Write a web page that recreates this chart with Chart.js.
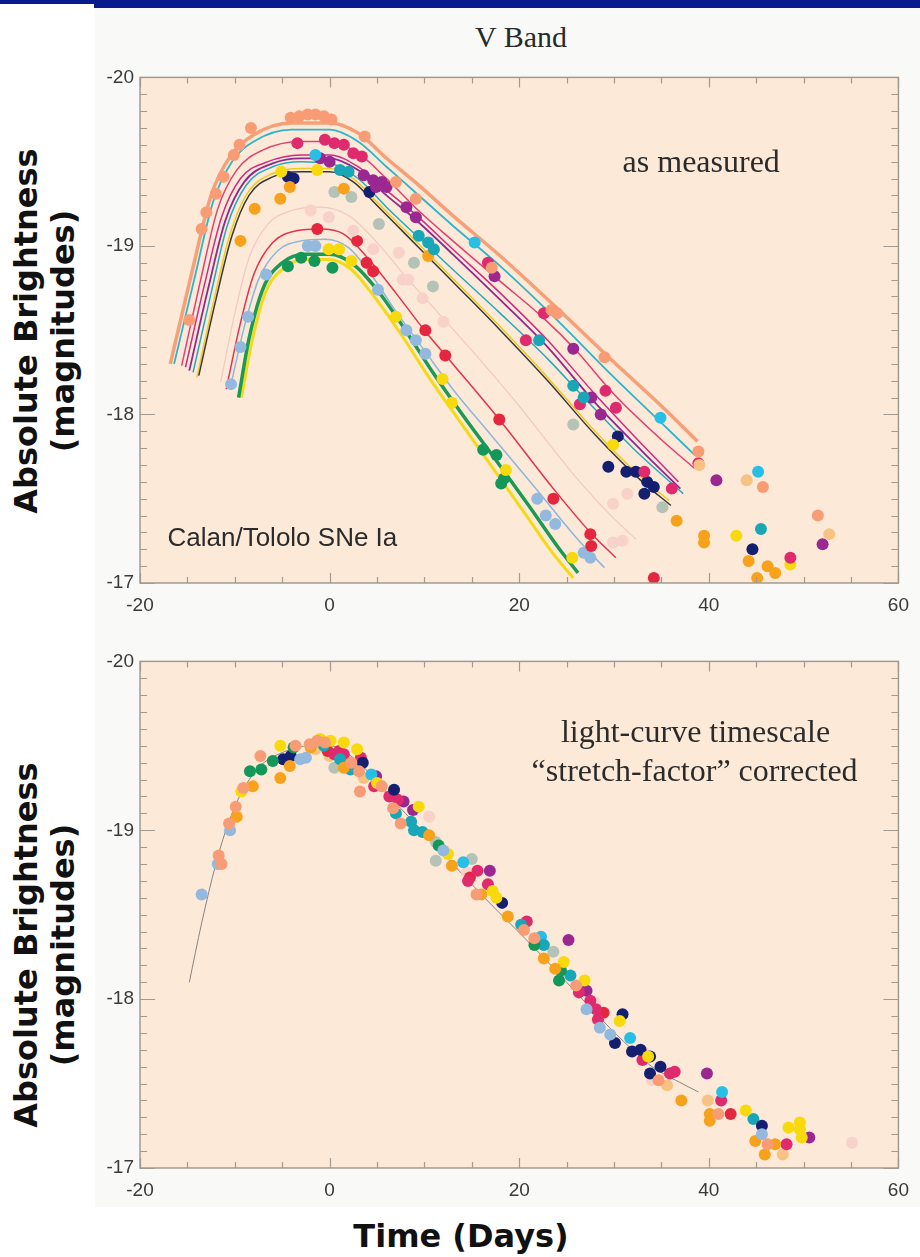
<!DOCTYPE html>
<html>
<head>
<meta charset="utf-8">
<script src="https://cdn.jsdelivr.net/npm/chart.js@4.4.1/dist/chart.umd.min.js"></script>
<style>
  html, body { margin: 0; padding: 0; background: #fff; }
  body { width: 920px; height: 1257px; position: relative; overflow: hidden; }
  .bar { position: absolute; background: #071b8f; }
  .sheet { position: absolute; left: 95px; top: 8px; width: 825px; height: 1199px; background: #f9f9f8; }
  .panel { position: absolute; left: 95px; width: 825px; height: 560px; }
  #vband { position: absolute; left: 421px; top: 19px; width: 200px; text-align: center;
           font: 30px/36px "Liberation Serif", serif; color: #2a2a2a; }
  .ytitle { position: absolute; left: -175px; width: 440px; height: 74px; text-align: center;
            font: bold 32px/37px "DejaVu Sans", sans-serif; color: #111; transform: rotate(-90deg); }
  #xtitle { position: absolute; left: 261px; top: 1216px; width: 400px; text-align: center;
            font: bold 32px/40px "DejaVu Sans", sans-serif; color: #111; }
</style>
</head>
<body>
<div class="bar" style="left:0;top:0;width:920px;height:4px"></div>
<div class="bar" style="left:94px;top:0;width:826px;height:8px"></div>
<div class="sheet"></div>
<div id="vband">V Band</div>
<div class="panel" style="top:60px"><canvas id="topChart"></canvas></div>
<div class="panel" style="top:644px"><canvas id="bottomChart"></canvas></div>
<div class="ytitle" style="top:294px">Absolute Brightness<br>(magnitudes)</div>
<div class="ytitle" style="top:908px">Absolute Brightness<br>(magnitudes)</div>
<div id="xtitle">Time (Days)</div>
<script>
// axes
const X_TICKS = [-20, 0, 20, 40, 60];
const Y_TICKS = [-20, -19, -18, -17];
const X_RANGE = [-20, 60];
const Y_RANGE = [-20, -17];

// top panel: fitted light curves [day, magnitude]
const CURVE_SALMON = [[-16.8,-18.30],[-14.5,-18.85],[-12.5,-19.30],[-10.5,-19.53],[-8,-19.66],[-4,-19.73],[0,-19.73],[3,-19.67],[6,-19.52],[9,-19.38],[13,-19.18],[18,-18.94],[24,-18.63],[30,-18.31],[35,-18.05],[38.8,-17.84]];
const CURVE_CYAN = [[-16.4,-18.30],[-14.2,-18.82],[-12.3,-19.26],[-10.3,-19.50],[-8,-19.62],[-4,-19.69],[0,-19.69],[3,-19.62],[6,-19.47],[9,-19.32],[13,-19.12],[18,-18.88],[24,-18.56],[30,-18.22],[35,-17.95],[38.5,-17.76]];
const CURVE_PINK = [[-15.6,-18.29],[-13.6,-18.80],[-11.8,-19.22],[-9.8,-19.45],[-7,-19.57],[-3,-19.62],[0,-19.62],[3,-19.55],[6,-19.40],[9,-19.23],[13,-19.03],[18,-18.79],[22.6,-18.57],[26,-18.38],[30,-18.12],[35,-17.85],[38.5,-17.68]];
const CURVE_MAGENTA = [[-15.2,-18.28],[-13.2,-18.77],[-11.4,-19.17],[-9.4,-19.40],[-6.5,-19.50],[-3,-19.54],[0,-19.54],[3,-19.47],[6,-19.33],[9,-19.19],[13,-18.98],[18,-18.72],[23,-18.44],[28,-18.12],[33,-17.82],[36.8,-17.60]];
const CURVE_PURPLE = [[-14.8,-18.26],[-12.8,-18.75],[-11,-19.15],[-9,-19.38],[-6,-19.49],[-3,-19.52],[0,-19.52],[3,-19.45],[6,-19.30],[9,-19.16],[13,-18.95],[18,-18.68],[23,-18.40],[28,-18.07],[33,-17.78],[37,-17.56]];
const CURVE_TEAL = [[-14.4,-18.25],[-12.5,-18.72],[-10.8,-19.12],[-8.8,-19.36],[-6,-19.47],[-3,-19.50],[0,-19.49],[3,-19.40],[6,-19.23],[9,-19.07],[13,-18.86],[18,-18.60],[23,-18.33],[27,-18.09],[32,-17.80],[37.3,-17.53]];
const CURVE_BLACK = [[-13.8,-18.23],[-12,-18.68],[-10.3,-19.06],[-8.5,-19.30],[-6,-19.41],[-3,-19.44],[0,-19.44],[2.5,-19.38],[5,-19.24],[8,-19.07],[11,-18.90],[14,-18.73],[18,-18.50],[23,-18.20],[28,-17.88],[33,-17.60],[36,-17.46]];
const CURVE_YELLOW = [[-14.0,-18.22],[-12.2,-18.68],[-10.5,-19.07],[-8.7,-19.31],[-6,-19.43],[-3,-19.46],[0,-19.46],[2.5,-19.40],[5,-19.26],[8,-19.09],[11,-18.92],[14,-18.75],[18,-18.52],[23,-18.22],[28,-17.90],[33,-17.62],[35.8,-17.49]];
const CURVE_PALEPINK = [[-11.5,-18.19],[-10,-18.60],[-8.5,-18.93],[-6.5,-19.13],[-4,-19.21],[-1,-19.23],[2,-19.18],[5,-19.02],[8,-18.82],[11.5,-18.60],[15,-18.38],[20,-18.05],[25.5,-17.66],[29.5,-17.41],[32.3,-17.26]];
const CURVE_RED = [[-10.9,-18.15],[-9.5,-18.52],[-8,-18.83],[-6,-19.02],[-3.5,-19.09],[-1,-19.10],[1.5,-19.07],[4,-18.93],[7,-18.72],[10,-18.50],[13,-18.30],[17.9,-17.97],[23.6,-17.56],[27.5,-17.30],[30.2,-17.15]];
const CURVE_LIGHTBLUE = [[-10.4,-18.18],[-9,-18.52],[-7.5,-18.80],[-5.5,-18.97],[-3,-19.03],[-0.5,-19.04],[2,-18.99],[4.5,-18.82],[7,-18.61],[10,-18.38],[13,-18.15],[17,-17.88],[21.9,-17.55],[26,-17.27],[29,-17.09]];
const CURVE_GREEN = [[-9.6,-18.10],[-8.5,-18.45],[-7,-18.75],[-5,-18.90],[-2.5,-18.95],[0,-18.95],[2.5,-18.89],[5,-18.74],[8,-18.50],[11,-18.24],[14,-18.00],[17.4,-17.74],[21,-17.46],[24,-17.22],[26.2,-17.06]];
const CURVE_YELLOW_THICK = [[-9.3,-18.10],[-8.2,-18.43],[-6.8,-18.72],[-4.8,-18.87],[-2.5,-18.92],[0,-18.92],[2.3,-18.86],[4.7,-18.70],[7.6,-18.47],[10.6,-18.21],[13.6,-17.97],[17,-17.70],[20.5,-17.42],[23.5,-17.18],[25.7,-17.03]];

// top panel: measurements
const TOP_SALMON = [[-14.8,-18.56],[-13.5,-19.10],[-13.0,-19.20],[-12.0,-19.31],[-11.2,-19.41],[-10.1,-19.54],[-9.5,-19.60],[-8.3,-19.70],[-4.1,-19.76],[-3.2,-19.77],[-2.3,-19.78],[-1.5,-19.78],[-0.6,-19.77],[0.2,-19.75],[3.7,-19.65],[7.0,-19.38],[9.1,-19.28],[17.1,-18.87],[23.4,-18.62],[24.0,-18.60],[29.0,-18.34],[38.9,-17.78],[45.7,-17.57],[51.5,-17.40]];
const TOP_PEACH = [[39.0,-17.70],[44.0,-17.61],[52.7,-17.29]];
const TOP_CYAN = [[-1.5,-19.54],[15.3,-19.02],[34.9,-17.98],[45.2,-17.66]];
const TOP_TEAL = [[1.1,-19.45],[2.0,-19.44],[9.4,-19.06],[10.4,-19.02],[11.0,-18.98],[22.1,-18.44],[25.7,-18.17],[26.8,-18.10],[45.5,-17.32]];
const TOP_CRIMSON = [[-3.4,-19.61],[-0.5,-19.63],[0.5,-19.61],[1.5,-19.60],[2.5,-19.55],[3.4,-19.53],[16.7,-18.90],[20.7,-18.44],[22.6,-18.60],[26.4,-18.06],[29.1,-18.14],[30.2,-18.04],[33.2,-17.66],[36.1,-17.56],[38.9,-17.71],[48.6,-17.15]];
const TOP_PURPLE = [[-1.0,-19.52],[0.0,-19.50],[3.6,-19.42],[4.6,-19.39],[4.9,-19.35],[5.5,-19.38],[6.0,-19.35],[8.1,-19.23],[9.1,-19.17],[17.4,-18.82],[25.7,-18.39],[27.6,-18.10],[28.6,-18.00],[40.8,-17.61],[52.0,-17.23]];
const TOP_YELLOW = [[-5.1,-19.44],[-1.3,-19.45],[-0.1,-18.98],[1.0,-18.98],[2.3,-18.91],[7.0,-18.58],[11.9,-18.21],[12.9,-18.07],[18.6,-17.67],[25.6,-17.15],[29.9,-17.82],[42.9,-17.28],[48.6,-17.11]];
const TOP_ORANGE = [[-9.4,-19.03],[-7.9,-19.22],[-5.2,-19.28],[-4.2,-19.35],[1.5,-19.34],[10.4,-18.94],[36.6,-17.37],[39.5,-17.28],[39.5,-17.24],[44.2,-17.13],[45.1,-17.03],[46.2,-17.10],[47.0,-17.06]];
const TOP_NAVY = [[-4.4,-19.41],[-3.8,-19.40],[4.2,-19.32],[29.4,-17.69],[30.4,-17.87],[31.3,-17.66],[32.3,-17.66],[33.2,-17.53],[33.5,-17.60],[34.2,-17.57],[44.6,-17.20]];
const TOP_GRAY = [[0.5,-19.32],[2.3,-19.29],[5.2,-19.13],[8.9,-18.90],[10.9,-18.76],[25.7,-17.94],[35.1,-17.45]];
const TOP_PALEPINK = [[-2.0,-19.21],[-0.1,-19.17],[2.5,-19.09],[4.6,-18.98],[7.3,-18.96],[7.7,-18.80],[8.3,-18.80],[9.8,-18.69],[12.0,-18.55],[29.9,-17.47],[31.4,-17.53],[29.9,-17.24],[30.9,-17.25]];
const TOP_RED = [[-1.3,-19.10],[2.9,-19.03],[3.9,-18.90],[4.6,-18.85],[10.1,-18.50],[12.2,-18.35],[17.9,-17.97],[23.6,-17.50],[27.5,-17.29],[27.6,-17.22],[34.2,-17.03]];
const TOP_LIGHTBLUE = [[-10.4,-18.18],[-9.4,-18.40],[-8.6,-18.58],[-6.7,-18.83],[-2.3,-19.00],[-1.5,-19.00],[5.1,-18.74],[8.1,-18.50],[9.1,-18.44],[10.1,-18.36],[21.9,-17.50],[22.8,-17.40],[23.8,-17.35],[26.8,-17.18],[27.5,-17.15]];
const TOP_GREEN = [[-4.4,-18.88],[-3.0,-18.93],[-1.6,-18.91],[0.3,-18.87],[16.2,-17.79],[17.6,-17.76],[18.1,-17.59],[18.4,-17.62]];

// bottom panel: template curve and stretch-corrected measurements
const CURVE_TEMPLATE = [[-14.8,-18.10],[-13.5,-18.45],[-12,-18.80],[-11,-18.99],[-9.5,-19.20],[-7.5,-19.37],[-5,-19.46],[-2,-19.50],[0,-19.50],[2,-19.45],[4,-19.35],[6,-19.22],[8,-19.10],[10,-18.98],[13,-18.80],[16,-18.62],[19,-18.45],[22,-18.28],[25,-18.10],[28,-17.92],[31,-17.75],[34,-17.60],[36.5,-17.52],[38.9,-17.45]];
const BOT_SALMON = [[-11.7,-18.85],[-11.4,-18.80],[-10.6,-19.04],[-9.9,-19.14],[-9.1,-19.25],[-7.3,-19.44],[-3.6,-19.50],[-2.1,-19.51],[-1.3,-19.53],[-0.5,-19.52],[2.3,-19.40],[3.1,-19.35],[3.2,-19.23],[5.5,-19.26],[6.7,-19.13],[7.5,-19.04],[15.5,-18.62],[20.5,-18.41],[21.6,-18.36],[26.0,-18.08],[34.7,-17.52],[41.0,-17.32],[46.2,-17.14]];
const BOT_LIGHTBLUE = [[-13.5,-18.62],[-11.8,-18.80],[-10.5,-19.00],[-3.1,-19.42],[-2.5,-19.43],[12.0,-18.88],[27.1,-17.94],[28.5,-17.83],[29.6,-17.79],[45.6,-17.20]];
const BOT_ORANGE = [[-9.8,-19.08],[-8.1,-19.26],[-5.2,-19.31],[-4.2,-19.38],[-2.0,-19.49],[1.5,-19.37],[10.5,-18.97],[12.9,-18.79],[16.0,-18.62],[18.8,-18.49],[22.6,-18.24],[23.8,-18.18],[37.1,-17.40],[40.1,-17.32],[40.1,-17.28],[44.9,-17.16],[45.9,-17.08],[47.0,-17.14]];
const BOT_YELLOW = [[-9.3,-19.23],[-5.2,-19.50],[-1.0,-19.54],[0.1,-19.53],[1.5,-19.52],[2.9,-19.48],[5.0,-19.28],[9.4,-19.14],[12.5,-18.86],[17.2,-18.64],[17.6,-18.60],[24.7,-18.22],[26.9,-18.11],[30.6,-17.87],[33.6,-17.66],[43.9,-17.34],[48.4,-17.24],[49.6,-17.27],[49.6,-17.23],[49.8,-17.18]];
const BOT_GREEN = [[-8.4,-19.35],[-7.2,-19.36],[-6.0,-19.41],[-3.8,-19.49],[11.5,-18.91],[21.6,-18.32],[24.2,-18.11],[24.4,-18.17]];
const BOT_NAVY = [[-4.9,-19.42],[-4.1,-19.44],[3.5,-19.40],[6.8,-19.24],[18.2,-18.57],[30.1,-17.74],[30.9,-17.91],[31.9,-17.69],[32.8,-17.70],[33.8,-17.66],[33.8,-17.56],[34.9,-17.60],[45.6,-17.25]];
const BOT_TEAL = [[-0.6,-19.50],[1.1,-19.42],[2.2,-19.36],[7.0,-19.10],[8.6,-19.05],[8.9,-19.00],[9.8,-18.99],[20.2,-18.44],[22.6,-18.32],[25.4,-18.14],[44.7,-17.29]];
const BOT_CYAN = [[4.4,-19.33],[14.1,-18.81],[22.3,-18.37],[31.7,-17.77],[41.4,-17.45]];
const BOT_CRIMSON = [[0.5,-19.45],[1.0,-19.47],[1.5,-19.45],[3.3,-19.43],[4.7,-19.26],[6.3,-19.20],[7.2,-19.18],[14.6,-18.70],[15.6,-18.76],[16.7,-18.68],[20.8,-18.46],[26.3,-18.04],[27.5,-17.99],[28.1,-17.94],[28.3,-17.88],[33.0,-17.64],[35.9,-17.56],[36.4,-17.57],[41.3,-17.40],[48.2,-17.14]];
const BOT_RED = [[-0.2,-19.47],[14.8,-18.72],[28.9,-17.92],[42.3,-17.32]];
const BOT_PURPLE = [[4.9,-19.32],[7.8,-19.17],[8.8,-19.12],[16.9,-18.76],[25.2,-18.35],[27.1,-18.05],[39.8,-17.56],[50.6,-17.18]];
const BOT_GRAY = [[0.5,-19.37],[11.2,-18.93],[11.2,-18.82],[15.0,-18.83],[23.6,-18.28]];
const BOT_PEACH = [[-1.5,-19.48],[0.0,-19.44],[3.6,-19.31],[35.6,-17.49],[39.9,-17.40],[47.8,-17.08]];
const BOT_PALEPINK = [[10.5,-19.08],[14.5,-18.75],[28.0,-17.98],[33.2,-17.68],[34.0,-17.52],[55.1,-17.15]];

const PLOT_BG = '#fce9d8';
const FRAME = '#a39a92';
const TEXT = '#2b2b2b';

const toXY = arr => arr.map(([x, y]) => ({ x, y }));

function line(data, color, width) {
  return { data: toXY(data), showLine: true, borderColor: color, borderWidth: width,
           pointRadius: 0, pointHoverRadius: 0, fill: false,
           cubicInterpolationMode: 'monotone', order: 1 };
}
function dots(data, color) {
  return { data: toXY(data), showLine: false, backgroundColor: color, borderWidth: 0,
           pointRadius: 6, pointHoverRadius: 6, order: 0 };
}

const panelPlugin = {
  id: 'panel',
  beforeDraw(chart) {
    const { ctx, chartArea: a } = chart;
    ctx.save();
    ctx.fillStyle = PLOT_BG;
    ctx.fillRect(a.left, a.top, a.right - a.left, a.bottom - a.top);
    ctx.restore();
  },
  afterDatasetsDraw(chart, args, opts) {
    const { ctx, chartArea: a, scales: { x, y } } = chart;
    ctx.save();
    ctx.strokeStyle = FRAME;
    ctx.lineWidth = 1.2;
    ctx.beginPath();
    for (let v = X_RANGE[0]; v <= X_RANGE[1]; v += 5) {
      const px = Math.round(x.getPixelForValue(v)) + 0.5;
      const len = v % 20 === 0 ? 10 : 6;
      ctx.moveTo(px, a.bottom); ctx.lineTo(px, a.bottom - len);
      ctx.moveTo(px, a.top); ctx.lineTo(px, a.top + len);
    }
    for (let i = 0; i <= 30; i++) {
      const py = Math.round(y.getPixelForValue(Y_RANGE[0] + i / 10)) + 0.5;
      const len = i % 10 === 0 ? 15 : 7;
      ctx.moveTo(a.left, py); ctx.lineTo(a.left + len, py);
      ctx.moveTo(a.right, py); ctx.lineTo(a.right - len, py);
    }
    ctx.stroke();
    ctx.lineWidth = 1.5;
    ctx.strokeRect(a.left, a.top, a.right - a.left, a.bottom - a.top);
    ctx.fillStyle = TEXT;
    (opts.notes || []).forEach(n => {
      ctx.font = n.font;
      ctx.textAlign = n.align;
      ctx.textBaseline = 'alphabetic';
      ctx.fillText(n.text, x.getPixelForValue(n.x), y.getPixelForValue(n.y));
    });
    ctx.restore();
  }
};

function makePanel(id, datasets, notes, axisHeight) {
  const canvas = document.getElementById(id);
  canvas.width = 825; canvas.height = 560;
  return new Chart(canvas, {
    type: 'scatter',
    data: { datasets },
    plugins: [panelPlugin],
    options: {
      responsive: false,
      animation: false,
      events: [],
      layout: { padding: { left: 0, right: 10, top: 12, bottom: 0 } },
      plugins: { legend: { display: false }, tooltip: { enabled: false }, panel: { notes } },
      scales: {
        x: {
          type: 'linear', min: X_RANGE[0], max: X_RANGE[1],
          grid: { display: false, drawTicks: false, tickLength: 0 }, border: { display: false },
          afterBuildTicks: s => { s.ticks = X_TICKS.map(value => ({ value })); },
          afterFit: s => { s.height = axisHeight; },
          ticks: { padding: 11, maxRotation: 0, autoSkip: false, color: '#3a3a3a',
                   font: { family: 'Liberation Sans', size: 19 } }
        },
        y: {
          type: 'linear', min: Y_RANGE[0], max: Y_RANGE[1], reverse: true,
          grid: { display: false, drawTicks: false, tickLength: 0 }, border: { display: false },
          afterBuildTicks: s => { s.ticks = Y_TICKS.map(value => ({ value })); },
          afterFit: s => { s.width = 45; },
          ticks: { padding: 6, color: '#3a3a3a', font: { family: 'Liberation Sans', size: 19 } }
        }
      }
    }
  });
}

makePanel('topChart', [
  dots(TOP_SALMON, '#f79c74'), dots(TOP_PEACH, '#f8c282'), dots(TOP_CYAN, '#27bfe6'),
  dots(TOP_TEAL, '#19a7b7'), dots(TOP_CRIMSON, '#df2a6e'), dots(TOP_PURPLE, '#9a2890'),
  dots(TOP_YELLOW, '#f8d90c'), dots(TOP_ORANGE, '#f8a21c'), dots(TOP_NAVY, '#141f70'),
  dots(TOP_GRAY, '#b5c2b6'), dots(TOP_PALEPINK, '#f8d2c8'), dots(TOP_RED, '#e4263f'),
  dots(TOP_LIGHTBLUE, '#93bade'), dots(TOP_GREEN, '#14985a'),
  line(CURVE_CYAN, '#2fb4cc', 1.8), line(CURVE_SALMON, '#f6a078', 3.5),
  line(CURVE_PINK, '#e2406f', 1.5), line(CURVE_MAGENTA, '#cf2b80', 1.5),
  line(CURVE_PURPLE, '#8e2a8e', 1.8), line(CURVE_TEAL, '#25a9bf', 1.5),
  line(CURVE_BLACK, '#3b3636', 1.5), line(CURVE_YELLOW, '#eecb1e', 1.5),
  line(CURVE_PALEPINK, '#f3c7c0', 1.2), line(CURVE_RED, '#e3324c', 1.5),
  line(CURVE_LIGHTBLUE, '#8db6de', 1.5), line(CURVE_GREEN, '#1a9a52', 3.5),
  line(CURVE_YELLOW_THICK, '#f3da14', 3)
], [
  { text: 'as measured', x: 39.2, y: -19.44, font: '32px "Liberation Serif"', align: 'center' },
  { text: 'Calan/Tololo SNe Ia', x: -17.1, y: -17.22, font: '26px "Liberation Sans"', align: 'left' }
], 37);

makePanel('bottomChart', [
  dots(BOT_SALMON, '#f79c74'), dots(BOT_LIGHTBLUE, '#93bade'), dots(BOT_ORANGE, '#f8a21c'),
  dots(BOT_YELLOW, '#f8d90c'), dots(BOT_GREEN, '#14985a'), dots(BOT_NAVY, '#141f70'),
  dots(BOT_TEAL, '#19a7b7'), dots(BOT_CYAN, '#27bfe6'), dots(BOT_CRIMSON, '#df2a6e'),
  dots(BOT_RED, '#e4263f'), dots(BOT_PURPLE, '#9a2890'), dots(BOT_GRAY, '#b5c2b6'),
  dots(BOT_PEACH, '#f8c282'), dots(BOT_PALEPINK, '#f8d2c8'),
  line(CURVE_TEMPLATE, '#8a8480', 1)
], [
  { text: 'light-curve timescale', x: 38.6, y: -19.52, font: '32px "Liberation Serif"', align: 'center' },
  { text: '\u201Cstretch-factor\u201D corrected', x: 38.5, y: -19.29, font: '32px "Liberation Serif"', align: 'center' }
], 36);
</script>
</body>
</html>
